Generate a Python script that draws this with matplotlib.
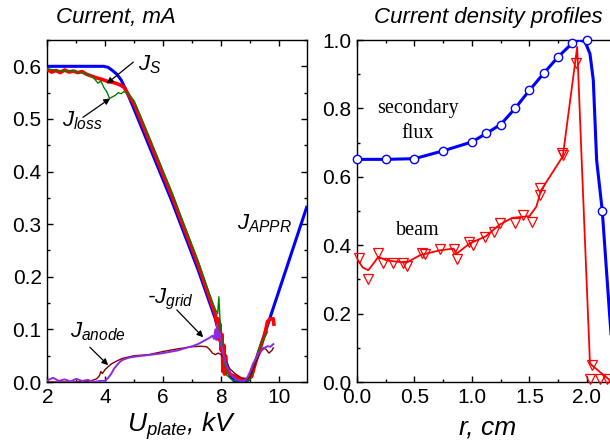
import matplotlib
matplotlib.use('Agg')
import matplotlib.pyplot as plt
from matplotlib.ticker import MultipleLocator

plt.rcParams['font.family'] = ['Liberation Sans', 'DejaVu Sans']
plt.rcParams['mathtext.fontset'] = 'custom'
plt.rcParams['mathtext.it'] = 'Liberation Sans:italic'
plt.rcParams['mathtext.rm'] = 'Liberation Sans'
plt.rcParams['mathtext.sf'] = 'Liberation Sans'
plt.rcParams['mathtext.bf'] = 'Liberation Sans:bold'

# ---------------- Left panel data (U_plate, kV -> current, mA) ----------------
appr_u = [2.0, 3.95, 4.1, 4.25, 4.4, 4.55, 4.7, 4.97, 6.29, 7.21, 7.8, 8.1, 8.3, 8.45, 8.9, 9.0, 10.95]
appr_i = [0.600, 0.600, 0.598, 0.592, 0.585, 0.574, 0.557, 0.522, 0.345, 0.2125, 0.12, 0.055, 0.012, 0.002, 0.002, 0.008, 0.332]

js_u = [2.0, 2.15, 2.3, 2.45, 2.6, 2.75, 2.9, 3.05, 3.2, 3.35, 3.5, 3.7, 3.9, 4.1, 4.3, 4.5, 4.65,
        4.8, 5.0, 5.3, 5.6, 6.0, 6.3, 6.6, 6.9, 7.2, 7.5, 7.7, 7.8, 7.85, 7.9, 7.93, 7.96, 8.0,
        8.03, 8.06, 8.09, 8.12, 8.15, 8.2, 8.3, 8.5, 8.7, 8.9, 9.05, 9.2, 9.35, 9.5, 9.6, 9.7, 9.8, 9.82]
js_i = [0.594, 0.589, 0.592, 0.588, 0.593, 0.589, 0.591, 0.588, 0.590, 0.585, 0.582, 0.578, 0.575, 0.571,
        0.569, 0.565, 0.560, 0.546, 0.528, 0.488, 0.448, 0.394, 0.354, 0.310, 0.267, 0.224, 0.176, 0.144,
        0.128, 0.110, 0.120, 0.080, 0.110, 0.060, 0.090, 0.020, 0.070, 0.015, 0.050, 0.020, 0.015, 0.010,
        0.005, 0.005, 0.010, 0.040, 0.065, 0.090, 0.115, 0.120, 0.120, 0.110]

jloss_u = [2.0, 2.4, 2.8, 3.2, 3.4, 3.6, 3.75, 3.85, 3.95, 4.05, 4.15, 4.25, 4.35, 4.45, 4.55, 4.65,
           4.8, 5.0, 5.3, 5.6, 6.0, 6.3, 6.6, 6.9, 7.2, 7.5, 7.7, 7.8, 7.88, 7.92, 7.96, 8.05, 8.19,
           8.4, 8.7, 9.0, 9.15, 9.28, 9.45, 9.6]
jloss_i = [0.595, 0.592, 0.592, 0.588, 0.585, 0.578, 0.568, 0.572, 0.560, 0.552, 0.539, 0.542, 0.545,
           0.550, 0.548, 0.552, 0.548, 0.534, 0.495, 0.455, 0.401, 0.361, 0.317, 0.274, 0.231, 0.183,
           0.152, 0.138, 0.130, 0.162, 0.120, 0.060, 0.013, 0.003, 0.002, 0.004, 0.030, 0.060, 0.080, 0.095]

janode_u = [2.0, 3.0, 3.5, 3.7, 3.8, 3.85, 3.9, 4.0, 4.2, 4.4, 4.6, 5.0, 5.5, 6.0, 6.5, 7.0, 7.3, 7.5,
            7.6, 7.7, 7.8, 7.9, 8.0, 8.1, 8.2, 8.3, 8.5, 8.7, 8.9, 9.0, 9.15, 9.3, 9.45, 9.55, 9.65, 9.75, 9.8]
janode_i = [0.0, 0.0, 0.002, 0.006, 0.012, 0.020, 0.016, 0.024, 0.034, 0.040, 0.045, 0.050, 0.052, 0.058,
            0.063, 0.067, 0.068, 0.067, 0.062, 0.055, 0.052, 0.055, 0.052, 0.045, 0.035, 0.025, 0.015,
            0.008, 0.005, 0.010, 0.030, 0.050, 0.065, 0.062, 0.055, 0.060, 0.065]

jgrid_u = [2.0, 2.2, 2.4, 2.6, 2.8, 3.0, 3.2, 3.4, 3.6, 3.8, 4.0, 4.1, 4.2, 4.3, 4.4, 4.5, 4.6, 4.8, 5.0,
           5.3, 5.6, 5.9, 6.2, 6.5, 6.8, 7.0, 7.2, 7.4, 7.6, 7.7, 7.75, 7.8, 7.83, 7.86, 7.9, 7.95, 8.0,
           8.05, 8.1, 8.2, 8.3, 8.4, 8.6, 8.8, 8.9, 9.0, 9.1, 9.2, 9.3, 9.4, 9.5, 9.6, 9.7, 9.8]
jgrid_i = [0.003, 0.008, 0.002, 0.005, 0.001, 0.006, 0.002, 0.004, 0.000, 0.002, 0.002, 0.008, 0.015,
           0.025, 0.032, 0.038, 0.042, 0.046, 0.048, 0.050, 0.052, 0.054, 0.057, 0.060, 0.065, 0.068,
           0.072, 0.078, 0.084, 0.088, 0.082, 0.100, 0.080, 0.110, 0.085, 0.095, 0.070, 0.060, 0.045,
           0.030, 0.020, 0.010, 0.003, 0.002, 0.008, 0.020, 0.035, 0.045, 0.055, 0.060, 0.065, 0.068,
           0.067, 0.072]

# ---------------- Right panel data (r, cm -> normalized density) ----------------
flux_r_mk = [0.0, 0.25, 0.5, 0.75, 1.0, 1.125, 1.25, 1.375, 1.5, 1.625, 1.75, 1.87, 2.0, 2.133]
flux_j_mk = [0.651, 0.651, 0.651, 0.676, 0.702, 0.727, 0.751, 0.802, 0.853, 0.903, 0.951, 0.99, 1.0, 0.501]
flux_r_ln = [0.0, 0.25, 0.5, 0.75, 1.0, 1.125, 1.25, 1.375, 1.5, 1.625, 1.75, 1.87, 1.93, 1.983,
             2.026, 2.055, 2.084, 2.133, 2.194, 2.24]
flux_j_ln = [0.651, 0.651, 0.653, 0.676, 0.702, 0.727, 0.753, 0.80, 0.853, 0.903, 0.951, 0.99, 1.0,
             0.995, 0.96, 0.883, 0.649, 0.501, 0.21, 0.0]

beam_r_mk = [0.02, 0.098, 0.185, 0.229, 0.316, 0.397, 0.437, 0.562, 0.59, 0.722, 0.843, 0.867, 0.977,
             1.006, 1.113, 1.19, 1.243, 1.373, 1.44, 1.519, 1.59, 1.59, 1.78, 1.795, 1.906, 2.04, 2.026,
             2.11, 2.17]
beam_j_mk = [0.362, 0.300, 0.378, 0.349, 0.349, 0.349, 0.339, 0.378, 0.374, 0.388, 0.388, 0.359, 0.410,
             0.400, 0.425, 0.440, 0.466, 0.466, 0.488, 0.469, 0.566, 0.547, 0.669, 0.664, 0.932, 0.050,
             0.008, 0.008, 0.008]
beam_r_ln = [0.0, 0.05, 0.098, 0.14, 0.185, 0.255, 0.34, 0.43, 0.55, 0.72, 0.84, 0.866, 0.98, 1.12,
             1.24, 1.35, 1.5, 1.56, 1.6, 1.79, 1.915, 1.954, 2.026, 2.04, 2.11, 2.2]
beam_j_ln = [0.36, 0.335, 0.327, 0.345, 0.366, 0.356, 0.352, 0.349, 0.371, 0.385, 0.39, 0.375, 0.405,
             0.426, 0.46, 0.48, 0.485, 0.513, 0.56, 0.66, 0.98, 0.649, 0.055, 0.05, 0.03, 0.005]

fig = plt.figure(figsize=(6.1, 4.47), dpi=100)
ax1 = fig.add_axes([0.0775, 0.1454, 0.4252, 0.7651])
ax2 = fig.add_axes([0.5852, 0.1454, 0.4713, 0.7651])

BLUE = '#0000ff'
RED = '#ff0000'
GREEN = '#008000'
BROWN = '#800000'
PURPLE = '#8a2be2'

# ---- left ----
ax1.plot(appr_u, appr_i, color=BLUE, lw=2.2, zorder=2)
ax1.plot(js_u, js_i, color=RED, lw=2.6, zorder=3)
ax1.plot(jloss_u, jloss_i, color=GREEN, lw=1.0, zorder=4)
ax1.plot(janode_u, janode_i, color=BROWN, lw=1.0, zorder=5)
ax1.plot(jgrid_u, jgrid_i, color=PURPLE, lw=1.4, zorder=5)

ax1.set_xlim(2, 10.95)
ax1.set_ylim(0, 0.65)
ax1.xaxis.set_major_locator(MultipleLocator(2))
ax1.xaxis.set_minor_locator(MultipleLocator(1))
ax1.yaxis.set_minor_locator(MultipleLocator(0.05))
ax1.set_yticks([0.0, 0.1, 0.2, 0.3, 0.4, 0.5, 0.6])
ax1.set_yticklabels(['0.0', '0.1', '0.2', '0.3', '0.4', '0.5', '0.6'])

tkw = dict(fontsize=16, fontstyle='italic')
ax1.text(5.13, 0.603, r'$J_S$', ha='left', va='center', **tkw)
ax1.text(2.5, 0.497, r'$J_{loss}$', ha='left', va='center', **tkw)
ax1.text(8.54, 0.30, r'$J_{APPR}$', ha='left', va='center', **tkw)
ax1.text(5.44, 0.157, r'-$J_{grid}$', ha='left', va='center', **tkw)
ax1.text(2.78, 0.095, r'$J_{anode}$', ha='left', va='center', **tkw)

akw = dict(arrowstyle='-|>', lw=0.9, color='black', mutation_scale=9, shrinkA=0, shrinkB=0)
ax1.annotate('', xy=(4.05, 0.567), xytext=(4.97, 0.608), arrowprops=akw)
ax1.annotate('', xy=(4.17, 0.539), xytext=(3.23, 0.503), arrowprops=akw)
ax1.annotate('', xy=(7.38, 0.085), xytext=(6.47, 0.137), arrowprops=akw)
ax1.annotate('', xy=(4.1, 0.032), xytext=(3.47, 0.066), arrowprops=akw)

# ---- right ----
ax2.plot(flux_r_ln, flux_j_ln, color=BLUE, lw=2.2, zorder=3)
ax2.plot(flux_r_mk, flux_j_mk, ls='none', marker='o', ms=6, mfc='white', mec=BLUE, mew=1.0,
         zorder=4, clip_on=False)
ax2.plot(beam_r_ln, beam_j_ln, color=RED, lw=1.3, zorder=3)
ax2.plot(beam_r_mk, beam_j_mk, ls='none', marker='v', ms=6.5, mfc='none', mec=RED, mew=0.9,
         zorder=4, clip_on=False)

ax2.set_xlim(0, 2.5)
ax2.set_ylim(0, 1.0)
ax2.xaxis.set_minor_locator(MultipleLocator(0.25))
ax2.yaxis.set_minor_locator(MultipleLocator(0.1))
ax2.set_xticks([0.0, 0.5, 1.0, 1.5, 2.0])
ax2.set_xticklabels(['0.0', '0.5', '1.0', '1.5', '2.0'])
ax2.set_yticks([0.0, 0.2, 0.4, 0.6, 0.8, 1.0])
ax2.set_yticklabels(['0.0', '0.2', '0.4', '0.6', '0.8', '1.0'])

skw = dict(fontsize=14.5, family=['Liberation Serif', 'DejaVu Serif'], ha='center', va='center')
ax2.text(0.53, 0.80, 'secondary', **skw)
ax2.text(0.53, 0.728, 'flux', **skw)
ax2.text(0.53, 0.444, 'beam', **skw)

for ax in (ax1, ax2):
    ax.tick_params(which='both', direction='in', top=True, right=True, labelsize=15, pad=4)
    ax.tick_params(which='major', length=4, width=1.0)
    ax.tick_params(which='minor', length=2.5, width=1.0)
    for s in ax.spines.values():
        s.set_linewidth(1.0)

fig.text(116 / 610, 1 - 17 / 447, 'Current, mA', ha='center', va='center', fontsize=16, fontstyle='italic')
fig.text(488.5 / 610, 1 - 17 / 447, 'Current density profiles', ha='center', va='center', fontsize=16,
         fontstyle='italic')
fig.text(181.5 / 610, 1 - 432 / 447, r'$U_{plate}$, kV', ha='center', va='baseline', fontsize=19,
         fontstyle='italic')
fig.text(488 / 610, 1 - 434 / 447, 'r, cm', ha='center', va='baseline', fontsize=19, fontstyle='italic')

fig.savefig('out.png', dpi=100)
